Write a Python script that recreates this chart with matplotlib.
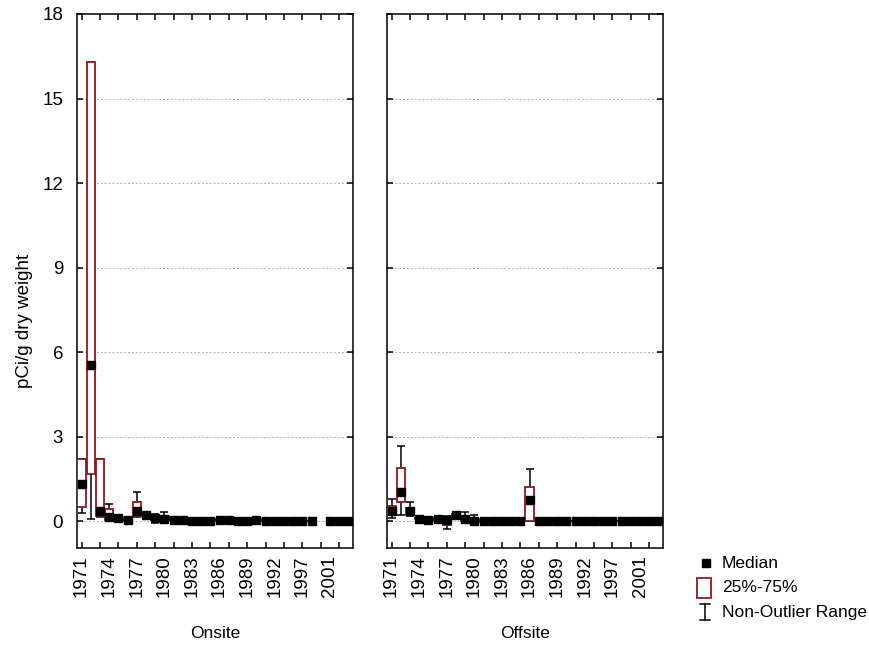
import numpy as np
import matplotlib
matplotlib.use('Agg')
import matplotlib.pyplot as plt
from matplotlib.patches import Rectangle

plt.rcParams['font.family'] = ['Liberation Sans', 'DejaVu Sans']
plt.rcParams['font.size'] = 12

# category labels (one per box)
years = ['1971', '1972', '1973', '1974', '1975', '1976', '1977', '1978', '1979', '1980',
         '1981', '1982', '1983', '1984', '1985', '1986', '1987', '1988', '1989', '1990',
         '1991', '1992', '1993', '1995', '1997', '1998', '1999', '2001', '2002', '2003']
label_every = 3
tick_every = 2

nan = np.nan
# Onsite stats
on_med = [1.33, 5.55, 0.38, 0.15, 0.10, 0.03, 0.37, 0.23, 0.10, 0.07,
          0.06, 0.05, 0.01, 0.01, 0.01, 0.04, 0.06, 0.02, 0.01, 0.06,
          0.02, 0.02, 0.01, 0.01, 0.01, 0.01, nan, 0.01, 0.01, 0.01]
on_q1 = [0.49, 1.67, 0.20, 0.05, 0.06, 0.01, 0.20, 0.17, 0.03, 0.03,
         0.03, 0.03, 0.00, 0.00, 0.00, 0.01, 0.03, 0.01, 0.00, 0.03,
         0.01, 0.01, 0.00, 0.00, 0.00, 0.00, nan, 0.00, 0.00, 0.00]
on_q3 = [2.22, 16.3, 2.22, 0.43, 0.14, 0.05, 0.67, 0.28, 0.20, 0.17,
         0.08, 0.06, 0.02, 0.02, 0.02, 0.07, 0.08, 0.03, 0.02, 0.07,
         0.03, 0.03, 0.02, 0.02, 0.02, 0.02, nan, 0.02, 0.02, 0.02]
on_lo = [0.29, 0.09, 0.15, 0.02, 0.04, 0.00, 0.15, 0.14, -0.05, 0.00,
         0.02, 0.02, 0.00, 0.00, 0.00, 0.00, 0.02, 0.00, 0.00, 0.02,
         0.00, 0.00, 0.00, 0.00, 0.00, 0.00, nan, 0.00, 0.00, 0.00]
on_hi = [2.22, 16.3, 2.22, 0.61, 0.16, 0.06, 1.02, 0.30, 0.25, 0.31,
         0.10, 0.07, 0.02, 0.02, 0.02, 0.14, 0.09, 0.03, 0.02, 0.08,
         0.03, 0.03, 0.02, 0.02, 0.02, 0.02, nan, 0.02, 0.02, 0.02]

# Offsite stats
off_med = [0.38, 1.02, 0.37, 0.09, 0.03, 0.09, 0.03, 0.21, 0.09, 0.00,
           0.00, 0.00, 0.00, 0.00, 0.00, 0.76, 0.00, 0.00, 0.00, 0.00,
           0.00, 0.00, 0.00, 0.00, 0.00, 0.00, 0.00, 0.00, 0.00, 0.00]
off_q1 = [0.23, 0.70, 0.23, 0.07, 0.02, 0.07, -0.12, 0.17, 0.00, -0.02,
          0.00, 0.00, 0.00, 0.00, 0.00, 0.00, 0.00, 0.00, 0.00, 0.00,
          0.00, 0.00, 0.00, 0.00, 0.00, 0.00, 0.00, 0.00, 0.00, 0.00]
off_q3 = [0.55, 1.89, 0.47, 0.11, 0.05, 0.11, 0.11, 0.24, 0.15, 0.09,
          0.01, 0.01, 0.01, 0.01, 0.01, 1.20, 0.01, 0.01, 0.01, 0.01,
          0.01, 0.01, 0.01, 0.01, 0.01, 0.01, 0.01, 0.01, 0.01, 0.01]
off_lo = [0.11, 0.21, 0.20, 0.06, 0.01, 0.06, -0.28, 0.15, -0.02, -0.03,
          0.00, 0.00, 0.00, 0.00, 0.00, 0.00, 0.00, 0.00, 0.00, 0.00,
          0.00, 0.00, 0.00, 0.00, 0.00, 0.00, 0.00, 0.00, 0.00, 0.00]
off_hi = [0.79, 2.66, 0.67, 0.12, 0.06, 0.12, 0.20, 0.26, 0.33, 0.23,
          0.01, 0.01, 0.01, 0.01, 0.01, 1.86, 0.01, 0.01, 0.01, 0.01,
          0.01, 0.01, 0.01, 0.01, 0.01, 0.01, 0.01, 0.01, 0.01, 0.01]

panels = [('Onsite', on_med, on_q1, on_q3, on_lo, on_hi),
          ('Offsite', off_med, off_q1, off_q3, off_lo, off_hi)]

box_color = '#8b1a1a'
tick_fs = 13.5

fig = plt.figure(figsize=(8.7, 6.47), dpi=100)
W, H = 870, 647
lefts = [77, 387]
ax_w = 276
ax_top, ax_bot = 14, 548

x = np.arange(len(years))
for k, (name, med, q1, q3, lo, hi) in enumerate(panels):
    ax = fig.add_axes([lefts[k] / W, 1 - ax_bot / H, ax_w / W, (ax_bot - ax_top) / H])
    med, q1, q3, lo, hi = map(np.array, (med, q1, q3, lo, hi))
    ok = ~np.isnan(med)

    ax.errorbar(x[ok], med[ok], yerr=[med[ok] - lo[ok], hi[ok] - med[ok]], fmt='none',
                ecolor='black', elinewidth=1.1, capsize=3.2, capthick=1.1, zorder=2)
    ax.bar(x[ok], q3[ok] - q1[ok], bottom=q1[ok], width=0.9, facecolor='white',
           edgecolor=box_color, linewidth=1.3, zorder=3)
    ax.plot(x[ok], med[ok], 's', color='black', markersize=5.5, zorder=4)

    ax.set_xlim(-0.5, len(years) - 0.5)
    ax.set_ylim(-0.95, 18)
    ax.set_yticks(np.arange(0, 19, 3))
    for yv in np.arange(0, 18, 3):
        ax.axhline(yv, color='#b0b0b0', linestyle=(0, (2, 2)), linewidth=0.7, zorder=0)

    ax.set_xticks(x[::tick_every])
    ax.set_xticklabels([])
    ax.set_xticks(x[::label_every], minor=True)
    ax.set_xticklabels(years[::label_every], minor=True)
    ax.xaxis.remove_overlapping_locs = False
    ax.tick_params(axis='x', which='major', direction='in', length=4, width=1.1,
                   top=True, bottom=True)
    ax.tick_params(axis='x', which='minor', length=0, pad=5, labelsize=tick_fs,
                   labelrotation=90)
    ax.tick_params(axis='y', direction='in', length=4, width=1.1, left=True, right=True,
                   pad=10, labelsize=tick_fs)
    if k == 1:
        ax.set_yticklabels([])
    else:
        ax.set_ylabel('pCi/g dry weight', fontsize=tick_fs)
        ax.yaxis.set_label_coords(-0.16, 0.425)
    ax.set_xlabel(name, fontsize=12.5, labelpad=21)
    for s in ax.spines.values():
        s.set_linewidth(1.1)

# legend, drawn in pixel coordinates of the figure
lg = fig.add_axes([0, 0, 1, 1], facecolor='none')
lg.set_xlim(0, W)
lg.set_ylim(H, 0)
lg.axis('off')
lg.plot([706.5], [563], 's', color='black', markersize=5.5)
lg.add_patch(Rectangle((697, 578), 14, 20, facecolor='white', edgecolor=box_color, linewidth=1.3))
lg.plot([705, 705], [604, 620], color='black', linewidth=1.1)
lg.plot([700, 710], [604, 604], color='black', linewidth=1.1)
lg.plot([700, 710], [620, 620], color='black', linewidth=1.1)
lg.text(722, 563, 'Median', va='center', ha='left', fontsize=12.5)
lg.text(722, 588, '25%-75%', va='center', ha='left', fontsize=12.5)
lg.text(722, 613, 'Non-Outlier Range', va='center', ha='left', fontsize=12.5)

fig.savefig('out.png', dpi=100)
